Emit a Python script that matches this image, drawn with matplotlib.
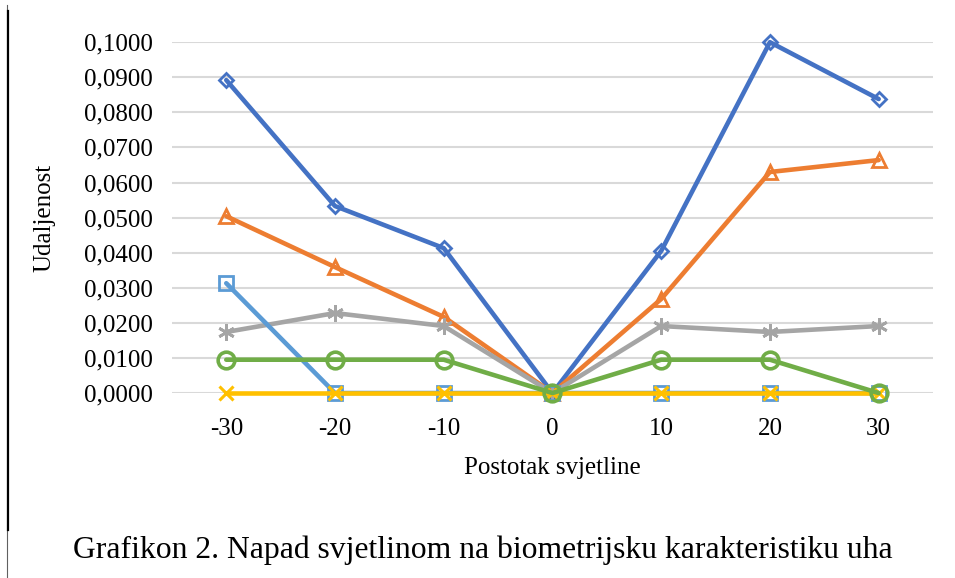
import matplotlib
matplotlib.use("Agg")
import matplotlib.pyplot as plt
from matplotlib.lines import Line2D
from matplotlib.ticker import FuncFormatter

# Brightness change (%) on the x axis
brightness = [-30, -20, -10, 0, 10, 20, 30]

# Distance values per series
s_blue = [0.0892, 0.0533, 0.0413, 0.0, 0.0405, 0.1000, 0.0838]
s_orange = [0.0504, 0.0359, 0.0217, 0.0, 0.0268, 0.0630, 0.0664]
s_gray = [0.0174, 0.0228, 0.0191, 0.0, 0.0191, 0.0174, 0.0191]
s_lightblue = [0.0313, 0.0, 0.0, 0.0, 0.0, 0.0, 0.0]
s_yellow = [0.0, 0.0, 0.0, 0.0, 0.0, 0.0, 0.0]
s_green = [0.0095, 0.0095, 0.0095, 0.0, 0.0095, 0.0095, 0.0]

y_ticks = [0.0, 0.01, 0.02, 0.03, 0.04, 0.05, 0.06, 0.07, 0.08, 0.09, 0.10]

series = [
    (s_blue, "#4472C4", "D", 7.5, 2.0),
    (s_orange, "#ED7D31", "^", 10, 2.0),
    (s_gray, "#A5A5A5", (6, 2, 0), 12, 2.0),
    (s_lightblue, "#5B9BD5", "s", 9.5, 2.0),
    (s_yellow, "#FFC000", "x", 10, 2.2),
    (s_green, "#70AD47", "o", 12, 2.6),
]

serif = ["Liberation Serif", "DejaVu Serif"]
plt.rcParams["font.family"] = serif

fig = plt.figure(figsize=(9.55, 5.78), dpi=100)
ax = fig.add_axes([0.180, 0.320, 0.797, 0.607])

pos = list(range(len(brightness)))
for vals, col, mk, ms, mew in series:
    ax.plot(pos, vals, color=col, lw=3.3, marker=mk, markersize=ms,
            markerfacecolor="none", markeredgecolor=col, markeredgewidth=mew,
            clip_on=False, zorder=3, solid_capstyle="round")

ax.set_xlim(-0.5, len(brightness) - 0.5)
ax.set_ylim(0, 0.10)
ax.set_yticks(y_ticks)
ax.yaxis.set_major_formatter(FuncFormatter(lambda v, p: f"{v:.4f}".replace(".", ",")))
ax.set_xticks(pos)
ax.set_xticklabels([str(b) for b in brightness])
ax.grid(axis="y", color="#D9D9D9", lw=1.5, zorder=0)
ax.set_axisbelow(True)
for sp in ax.spines.values():
    sp.set_visible(False)
ax.tick_params(axis="both", length=0, labelsize=18, colors="black")
ax.tick_params(axis="y", pad=14)
ax.tick_params(axis="x", pad=18)

ax.set_xlabel("Postotak svjetline", fontsize=18, labelpad=12)
ax.set_ylabel("Udaljenost", fontsize=18, labelpad=20)

fig.text(0.506, 0.048, "Grafikon 2. Napad svjetlinom na biometrijsku karakteristiku uha",
         ha="center", va="center", fontsize=22.8)

# page edge lines on the left
fig.add_artist(Line2D([6.5 / 955, 6.5 / 955], [0, 1 - 5 / 578], color="#606060", lw=0.8))
fig.add_artist(Line2D([7.5 / 955, 7.5 / 955], [1 - 530 / 578, 1 - 11 / 578], color="black", lw=1.6))

fig.savefig("out.png", dpi=100)
